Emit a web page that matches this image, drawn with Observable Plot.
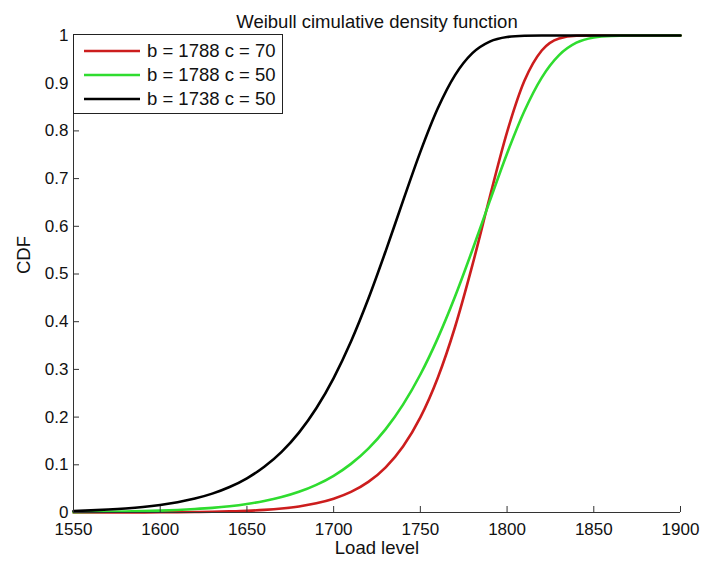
<!DOCTYPE html>
<html><head><meta charset="utf-8">
<script src="https://cdn.jsdelivr.net/npm/d3@7"></script>
<script src="https://cdn.jsdelivr.net/npm/@observablehq/plot@0.6"></script>
<style>
body{margin:0;background:#fff;}
#wrap{position:relative;width:701px;height:565px;background:#fff;}
</style></head>
<body><div id="wrap"></div>
<script>
const titleText = "Weibull cimulative density function";
const xLabel = "Load level";
const yLabel = "CDF";

const loadLevel = [1550,1560,1570,1580,1590,1600,1610,1620,1630,1640,1650,1660,1670,1680,1690,1700,1710,1720,1730,1740,1750,1760,1770,1780,1790,1800,1810,1820,1830,1840,1850,1860,1870,1880,1890,1900];

const cdfB1788C70 = [0.00005,0.00007,0.0001,0.0002,0.0003,0.0004,0.0006,0.0010,0.0015,0.0024,0.0036,0.0055,0.0084,0.0127,0.0192,0.0288,0.0431,0.0641,0.0947,0.1383,0.1993,0.2820,0.3889,0.5185,0.6609,0.7975,0.9050,0.9686,0.9938,0.9994,1,1,1,1,1,1];
const cdfB1788C50 = [0.0008,0.0011,0.0015,0.0021,0.0028,0.0039,0.0053,0.0072,0.0097,0.0132,0.0179,0.0241,0.0324,0.0434,0.0580,0.0770,0.1019,0.1340,0.1749,0.2262,0.2893,0.3651,0.4528,0.5504,0.6527,0.7527,0.8417,0.9118,0.9589,0.9849,0.9959,0.9993,0.9999,1,1,1];
const cdfB1738C50 = [0.0033,0.0045,0.0062,0.0085,0.0116,0.0159,0.0216,0.0293,0.0396,0.0534,0.0717,0.0958,0.1271,0.1675,0.2185,0.2819,0.3585,0.4480,0.5480,0.6532,0.7560,0.8468,0.9170,0.9631,0.9873,0.9969,0.9995,1,1,1,1,1,1,1,1,1];

const seriesNames = ["b = 1788 c = 70", "b = 1788 c = 50", "b = 1738 c = 50"];
const seriesColors = ["#cc1d1d", "#2fdc2f", "#000000"];
const seriesValues = [cdfB1788C70, cdfB1788C50, cdfB1738C50];

const xTicks = [1550,1600,1650,1700,1750,1800,1850,1900];
const xTickLabels = ["1550","1600","1650","1700","1750","1800","1850","1900"];
const yTicks = [0,0.1,0.2,0.3,0.4,0.5,0.6,0.7,0.8,0.9,1];
const yTickLabels = ["0","0.1","0.2","0.3","0.4","0.5","0.6","0.7","0.8","0.9","1"];

const W = 701, H = 565, mL = 73, mR = 21, mT = 35, mB = 53;
const innerW = W - mL - mR, innerH = H - mT - mB;
const font = "'Liberation Sans', Arial, sans-serif";
const fs = 17;      // tick labels
const fsText = 18.5; // title, axis labels, legend
const axisColor = "#333";

const lineMarks = seriesValues.map((vals, k) =>
  Plot.line(loadLevel.map((x, i) => ({x, y: vals[i]})),
    {x: "x", y: "y", stroke: seriesColors[k], strokeWidth: 2.6, curve: "monotone-x"}));

const chart = Plot.plot({
  width: W, height: H,
  marginLeft: mL, marginRight: mR, marginTop: mT, marginBottom: mB,
  style: {background: "#fff", fontFamily: font, fontSize: fs + "px", color: "#111"},
  x: {domain: [1550, 1900], label: null},
  y: {domain: [0, 1], label: null},
  marks: [
    ...lineMarks,
    Plot.ruleY([0], {stroke: axisColor, strokeWidth: 1}),
    Plot.ruleX([1550], {stroke: axisColor, strokeWidth: 1}),
    Plot.tickX(xTicks, {x: d => d, insetTop: innerH - 6, stroke: axisColor}),
    Plot.tickY(yTicks, {y: d => d, insetRight: innerW - 6, stroke: axisColor}),
    Plot.axisX(xTicks, {tickSize: 0, tickPadding: 10, fontSize: fs, label: null, fill: "#111",
      tickFormat: d => xTickLabels[xTicks.indexOf(d)]}),
    Plot.axisY(yTicks, {tickSize: 0, tickPadding: 5, fontSize: fs, label: null, fill: "#111",
      tickFormat: d => yTickLabels[yTicks.indexOf(d)]}),
    Plot.text([titleText], {frameAnchor: "top", dy: -21, fontSize: fsText, fill: "#111"}),
    Plot.text([xLabel], {frameAnchor: "bottom", dy: 41, fontSize: fsText, fill: "#111"}),
    Plot.text([yLabel], {frameAnchor: "left", dx: -49, rotate: -90, fontSize: fsText, fill: "#111"})
  ]
});

document.getElementById("wrap").appendChild(chart);

// legend box (top-left, inside axes)
const svg = d3.select(chart);
const lg = svg.append("g").attr("transform", `translate(${mL},${mT - 1})`);
lg.append("rect").attr("x", 0.5).attr("y", 0.5).attr("width", 209).attr("height", 79)
  .attr("fill", "#fff").attr("stroke", "#222").attr("stroke-width", 1);
seriesNames.forEach((name, k) => {
  const yy = 17 + k * 24;
  lg.append("line").attr("x1", 11).attr("x2", 67).attr("y1", yy).attr("y2", yy)
    .attr("stroke", seriesColors[k]).attr("stroke-width", 2.6);
  lg.append("text").attr("x", 74).attr("y", yy).attr("dy", "0.35em")
    .attr("text-anchor", "start")
    .attr("font-family", font).attr("font-size", fsText).attr("fill", "#111").text(name);
});
</script>
</body></html>
